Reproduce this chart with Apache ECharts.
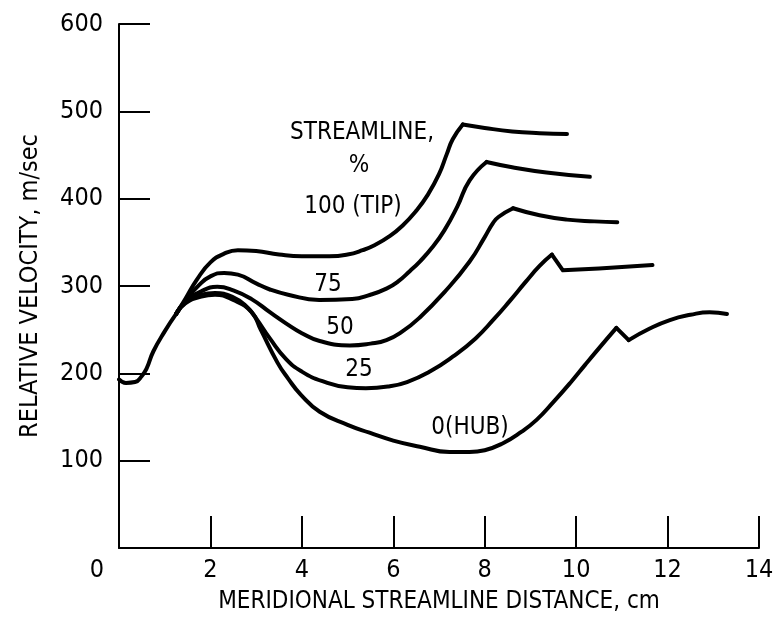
<!DOCTYPE html>
<html>
<head>
<meta charset="utf-8">
<script src="https://cdn.jsdelivr.net/npm/echarts@6/dist/echarts.min.js"></script>
<style>
  html, body { margin: 0; padding: 0; background: #fff; }
  #chart { width: 782px; height: 623px; }
</style>
</head>
<body>
<div id="chart"></div>
<script>
// Relative velocity along meridional streamlines, hub to tip.
const FONT = "'Liberation Sans Narrow', 'DejaVu Sans Condensed', sans-serif";

// Shared inlet portion of every streamline: [distance cm, velocity m/sec]
const inletCommon = [[0, 193], [0.15, 189], [0.35, 190], [0.5, 197], [0.6, 205], [0.75, 225], [1.0, 248], [1.25, 268]];

// 100 % (tip)
const tipRise = [[1.25, 268], [1.45, 285], [1.7, 307], [2.0, 327], [2.3, 337], [2.6, 341], [3.0, 340], [3.5, 336], [4.0, 334], [4.6, 334], [5.0, 336], [5.33, 341], [5.6, 347], [5.92, 357], [6.2, 369], [6.5, 386], [6.75, 404], [7.0, 428], [7.17, 451], [7.3, 468], [7.52, 485]];
const tipTail = [[7.52, 485], [8.0, 481], [8.6, 477], [9.2, 475], [9.8, 474]];

// 75 %
const s75Rise = [[1.25, 268], [1.45, 283], [1.75, 301], [2.0, 311], [2.3, 315], [2.6, 313], [3.0, 303], [3.3, 296], [3.7, 290], [4.38, 284], [5.1, 285], [5.5, 290], [5.85, 297], [6.1, 305], [6.36, 317], [6.58, 328], [6.85, 344], [7.12, 364], [7.4, 391], [7.67, 421], [8.04, 442]];
const s75Tail = [[8.04, 442], [8.6, 436], [9.35, 430], [10.3, 425]];

// 50 %
const s50Rise = [[1.25, 268], [1.45, 282], [1.8, 294], [2.15, 299], [2.5, 295], [2.9, 285], [3.3, 270], [3.66, 257], [4.0, 246], [4.39, 237], [5.05, 232], [5.5, 234], [5.85, 238], [6.2, 248], [6.58, 264], [7.12, 293], [7.67, 328], [8.0, 356], [8.18, 372], [8.3, 379], [8.62, 389]];
const s50Tail = [[8.62, 389], [9.2, 381], [9.8, 376], [10.4, 374], [10.9, 373]];

// 25 %
const s25Rise = [[1.25, 268], [1.45, 281], [1.8, 290], [2.1, 292], [2.5, 287], [2.8, 276], [3.0, 263], [3.3, 240], [3.66, 216], [4.0, 202], [4.45, 191], [5.0, 184], [5.4, 183], [5.9, 185], [6.3, 190], [6.8, 202], [7.3, 219], [7.8, 240], [8.2, 262], [8.55, 283], [8.9, 305], [9.2, 323], [9.47, 336]];
const s25Tail = [[9.47, 336], [9.71, 318], [10.5, 320], [11.67, 324]];

// 0 % (hub)
const hubRise = [[1.25, 268], [1.45, 280], [1.8, 288], [2.1, 290], [2.5, 284], [2.9, 270], [3.1, 250], [3.47, 212], [3.7, 194], [3.97, 176], [4.39, 156], [5.0, 141], [5.48, 132], [6.0, 123], [6.58, 116], [7.23, 110], [7.67, 110], [8.0, 112], [8.4, 120], [8.8, 133], [9.14, 147], [9.5, 167], [9.87, 189], [10.2, 210], [10.52, 230], [10.88, 252]];
const hubDrop = [[10.88, 252], [11.15, 238]];
const hubTail = [[11.15, 238], [11.6, 251], [12.05, 261], [12.5, 267], [12.92, 270], [13.3, 268]];

const xTicks = [0, 2, 4, 6, 8, 10, 12, 14];
const yTicks = [0, 100, 200, 300, 400, 500, 600];

// Curve labels
const curveLabels = [
  { text: 'STREAMLINE,', x: 362, y: 133 },
  { text: '%', x: 359, y: 166 },
  { text: '100 (TIP)', x: 353, y: 207 },
  { text: '75', x: 328, y: 285 },
  { text: '50', x: 340, y: 328 },
  { text: '25', x: 359, y: 370 },
  { text: '0(HUB)', x: 470, y: 428 }
];

const lineStyle = { color: '#000', width: 4, cap: 'round', join: 'round' };
function curve(data, smooth) {
  return {
    type: 'line', data: data, smooth: smooth, showSymbol: false, symbol: 'none',
    lineStyle: lineStyle, silent: true, animation: false, z: 3
  };
}

const series = [
  curve(inletCommon, true),
  curve(tipRise, true), curve(tipTail, true),
  curve(s75Rise, true), curve(s75Tail, true),
  curve(s50Rise, true), curve(s50Tail, true),
  curve(s25Rise, true), curve(s25Tail, false),
  curve(hubRise, true), curve(hubDrop, false), curve(hubTail, true)
];

const chart = echarts.init(document.getElementById('chart'), null, { renderer: 'canvas' });
chart.setOption({
  animation: false,
  backgroundColor: '#fff',
  grid: { left: 119, right: 23, top: 24, bottom: 75 },
  xAxis: {
    type: 'value', min: xTicks[0], max: xTicks[xTicks.length - 1], interval: 2,
    axisLine: { show: true, lineStyle: { color: '#000', width: 2 } },
    axisTick: { show: true, inside: true, length: 32, lineStyle: { color: '#000', width: 2 } },
    splitLine: { show: false },
    axisLabel: {
      margin: 10, color: '#000', fontFamily: FONT, fontSize: 25,
      formatter: function (v) { return v === 0 ? '{o|0}' : String(v); },
      rich: { o: { padding: [0, 44, 0, 0], fontFamily: FONT, fontSize: 25, color: '#000' } }
    },
    name: 'MERIDIONAL STREAMLINE DISTANCE, cm',
    nameLocation: 'middle', nameGap: 42,
    nameTextStyle: { color: '#000', fontFamily: FONT, fontSize: 24 }
  },
  yAxis: {
    type: 'value', min: yTicks[0], max: yTicks[yTicks.length - 1], interval: 100,
    axisLine: { show: true, lineStyle: { color: '#000', width: 2 } },
    axisTick: { show: true, inside: true, length: 31, lineStyle: { color: '#000', width: 2 } },
    splitLine: { show: false },
    axisLabel: {
      margin: 16, color: '#000', fontFamily: FONT, fontSize: 25,
      formatter: function (v) { return v === 0 ? '' : String(v); }
    },
    name: 'RELATIVE VELOCITY, m/sec',
    nameLocation: 'middle', nameGap: 76, nameRotate: 90,
    nameTextStyle: { color: '#000', fontFamily: FONT, fontSize: 25 }
  },
  graphic: curveLabels.map(function (l) {
    return {
      type: 'text', x: l.x, y: l.y, z: 10,
      style: { text: l.text, fill: '#000', font: '24px ' + FONT, textAlign: 'center', textVerticalAlign: 'middle' }
    };
  }),
  series: series
});
</script>
</body>
</html>
